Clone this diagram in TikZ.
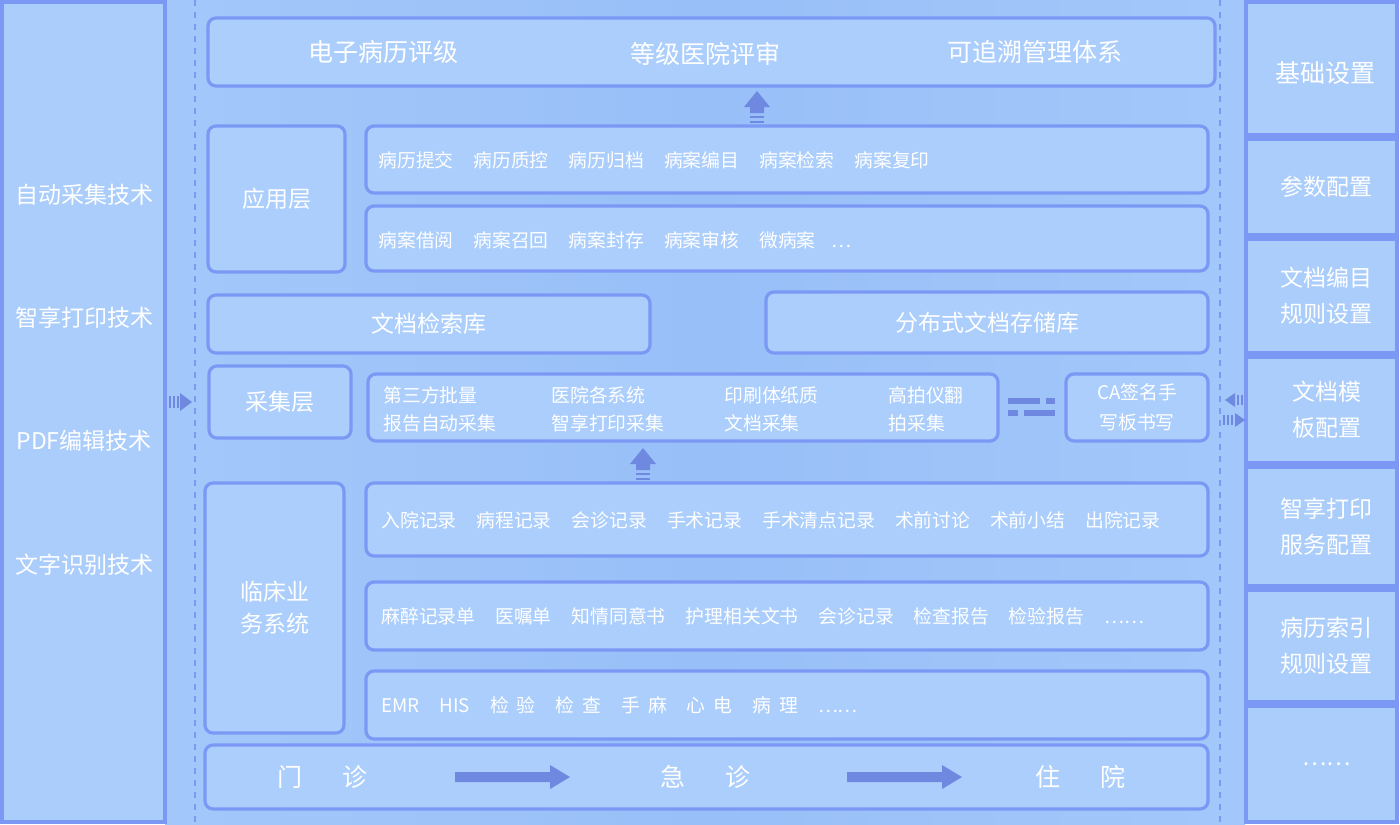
\documentclass[tikz,border=0pt]{standalone}
\usepackage{fontspec}
\setmainfont{Noto Sans CJK SC}
\usetikzlibrary{fit,positioning}
\definecolor{bgmid}{HTML}{98BFF8}
\definecolor{panel}{HTML}{AACDFB}
\definecolor{boxfill}{HTML}{ABCEFC}
\definecolor{edge}{HTML}{7B98F5}
\definecolor{arr}{HTML}{6F88E0}
\begin{document}
\begin{tikzpicture}[x=0.5pt, y=-0.5pt,
    box/.style={draw=edge, line width=1.6pt, fill=boxfill, rounded corners=4pt, inner sep=0pt},
    sidebox/.style={draw=edge, line width=1.6pt, fill=panel, inner sep=0pt},
    bigtxt/.style={font=\fontsize{12.5}{14}\selectfont, text=white},
    midtxt/.style={font=\fontsize{11.5}{13}\selectfont, text=white},
    smalltxt/.style={font=\fontsize{9.4}{11}\selectfont, text=white, anchor=west, inner sep=0pt},
    uparrow/.pic={
        \fill[arr] (-13,0) -- (0,-16) -- (13,0) -- (7,0) -- (7,6) -- (-7,6) -- (-7,0) -- cycle;
        \fill[arr] (-7,9) rectangle (7,11);
        \fill[arr] (-7,14) rectangle (7,16);
    }
]
\useasboundingbox (0,0) rectangle (1400,824);
% background
\shade[left color=panel!60!bgmid, right color=panel!60!bgmid, middle color=bgmid] (165,0) rectangle (1245,824);
\draw[edge, dashed, line width=0.6pt] (195,0) -- (195,824);
\draw[edge, dashed, line width=0.6pt] (1220,0) -- (1220,824);

% left panel
\node[sidebox, fit={(2,2)(165,822)}] (techs) {};
\foreach \y/\t in {195/自动采集技术, 318/智享打印技术, 441/PDF编辑技术, 565/文字识别技术}
    \node[midtxt] at (84,\y) {\t};

% right panel
\node[sidebox, fit={(1246,2)(1397,135)}] (r1) {};
\node[bigtxt] at (1325,73) {基础设置};
\foreach \n/\ya/\yb/\t in {r2/139/235/参数配置, r3/239/353/{文档编目\\[5pt]规则设置}, r4/357/463/{文档模\\[5pt]板配置},
    r5/467/586/{智享打印\\[5pt]服务配置}, r6/590/702/{病历索引\\[5pt]规则设置}, r7/706/822/……} {
    \node[sidebox, fit={(1246,\ya)(1397,\yb)}] (\n) {};
    \node[midtxt, align=center] at ([xshift=2.5pt]\n) {\t};
}

% top goals
\node[box, fit={(208,18)(1215,86)}] (goals) {};
\node[bigtxt] at (383,52) {电子病历评级};
\node[bigtxt] at (705,54) {等级医院评审};
\node[bigtxt] at (1035,52) {可追溯管理体系};
\pic at (757,107) {uparrow};

% application layer
\node[box, fit={(208,126)(345,272)}] (app) {};
\node[midtxt] at (app) {应用层};
\node[box, fit={(366,126)(1208,193)}] (appa) {};
\node[smalltxt] at (378,160) {病历提交\hspace{10pt}病历质控\hspace{10pt}病历归档\hspace{10pt}病案编目\hspace{10pt}病案检索\hspace{10pt}病案复印};
\node[box, fit={(366,206)(1208,271)}] (appb) {};
\node[smalltxt] at (378,240) {病案借阅\hspace{10pt}病案召回\hspace{10pt}病案封存\hspace{10pt}病案审核\hspace{10pt}微病案\hspace{8pt}…};

% storage
\node[box, fit={(208,295)(650,353)}] (index) {};
\node[midtxt] at (index) {文档检索库};
\node[box, fit={(766,292)(1208,353)}] (store) {};
\node[midtxt] at (store) {分布式文档存储库};

% collection layer
\node[box, fit={(209,366)(351,438)}] (collect) {};
\node[midtxt] at (collect) {采集层};
\node[box, fit={(368,374)(998,441)}] (ways) {};
\foreach \x/\a/\b in {383/第三方批量/报告自动采集, 551/医院各系统/智享打印采集, 724/印刷体纸质/文档采集, 888/高拍仪翻/拍采集} {
    \node[smalltxt] at (\x,395) {\a};
    \node[smalltxt] at (\x,423) {\b};
}
\fill[arr] (1008,398) rectangle (1040,404);
\fill[arr] (1046,398) rectangle (1055,404);
\fill[arr] (1008,410) rectangle (1018,416);
\fill[arr] (1024,410) rectangle (1055,416);
\node[box, fit={(1066,374)(1208,441)}] (ca) {};
\node[smalltxt, anchor=center, align=center] at (ca) {CA签名手\\[4pt]写板书写};
\pic at (643,464) {uparrow};

% clinical systems
\node[box, fit={(205,483)(344,733)}] (clinic) {};
\node[midtxt, align=center] at (clinic) {临床业\\[3pt]务系统};
\node[box, fit={(366,483)(1208,556)}] (cla) {};
\node[smalltxt] at (381,520) {入院记录\hspace{10pt}病程记录\hspace{10pt}会诊记录\hspace{10pt}手术记录\hspace{10pt}手术清点记录\hspace{10pt}术前讨论\hspace{10pt}术前小结\hspace{10pt}出院记录};
\node[box, fit={(366,582)(1208,650)}] (clb) {};
\node[smalltxt] at (381,616) {麻醉记录单\hspace{10pt}医嘱单\hspace{10pt}知情同意书\hspace{10pt}护理相关文书\hspace{10pt}会诊记录\hspace{10pt}检查报告\hspace{10pt}检验报告\hspace{10pt}……};
\node[box, fit={(366,671)(1208,739)}] (clc) {};
\node[smalltxt] at (381,705) {EMR\hspace{10pt}HIS\hspace{10pt}检\hspace{4pt}验\hspace{10pt}检\hspace{4pt}查\hspace{10pt}手\hspace{4pt}麻\hspace{10pt}心\hspace{4pt}电\hspace{10pt}病\hspace{4pt}理\hspace{10pt}……};

% flow
\node[box, fit={(205,745)(1208,809)}] (flow) {};
\node[bigtxt] at (322,777) {门\hspace{20pt}诊};
\node[bigtxt] at (705,777) {急\hspace{20pt}诊};
\node[bigtxt] at (1080,777) {住\hspace{20pt}院};
\foreach \x in {455,847}
    \fill[arr] (\x,772) -- (\x+95,772) -- (\x+95,765) -- (\x+115,777) -- (\x+95,789) -- (\x+95,782) -- (\x,782) -- cycle;

% side arrows
\fill[arr] (180,393) -- (192,402) -- (180,411) -- cycle;
\foreach \x in {169,173,177} \fill[arr] (\x,396) rectangle (\x+2,408);
\fill[arr] (1225,400) -- (1235,393) -- (1235,407) -- cycle;
\foreach \x in {1237,1241} \fill[arr] (\x,395) rectangle (\x+2,405);
\fill[arr] (1245,420) -- (1235,413) -- (1235,427) -- cycle;
\foreach \x in {1223,1227,1231} \fill[arr] (\x,415) rectangle (\x+2,425);
\end{tikzpicture}
\end{document}
